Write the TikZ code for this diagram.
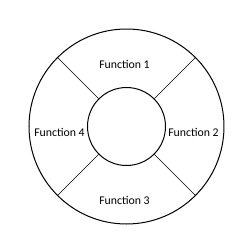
\documentclass[tikz,border=0pt]{standalone}
\usepackage{fontspec}
\setmainfont{Carlito}
\begin{document}
\begin{tikzpicture}[x=1pt,y=1pt,
  ring/.style={draw=black, line width=1pt},
  divider/.style={draw=black, line width=0.7pt},
  label/.style={font=\fontsize{11.8}{14}\selectfont, inner sep=0pt}]
\useasboundingbox (0,0) rectangle (250,-250);
\coordinate (c) at (126.5,-126.5);
\node[ring, circle, minimum size=195pt, inner sep=0pt] (outer) at (c) {};
\node[ring, circle, minimum size=78pt, inner sep=0pt] (inner) at (c) {};
\foreach \a in {45,135,225,315}{
  \draw[divider] (inner.\a) -- (outer.\a);
}
\node[label] (f1) at (124.5,-64.5) {Function 1};
\node[label] (f2) at (193.5,-132.5) {Function 2};
\node[label] (f3) at (124.5,-200) {Function 3};
\node[label] (f4) at (59.5,-132.5) {Function 4};
\end{tikzpicture}
\end{document}
